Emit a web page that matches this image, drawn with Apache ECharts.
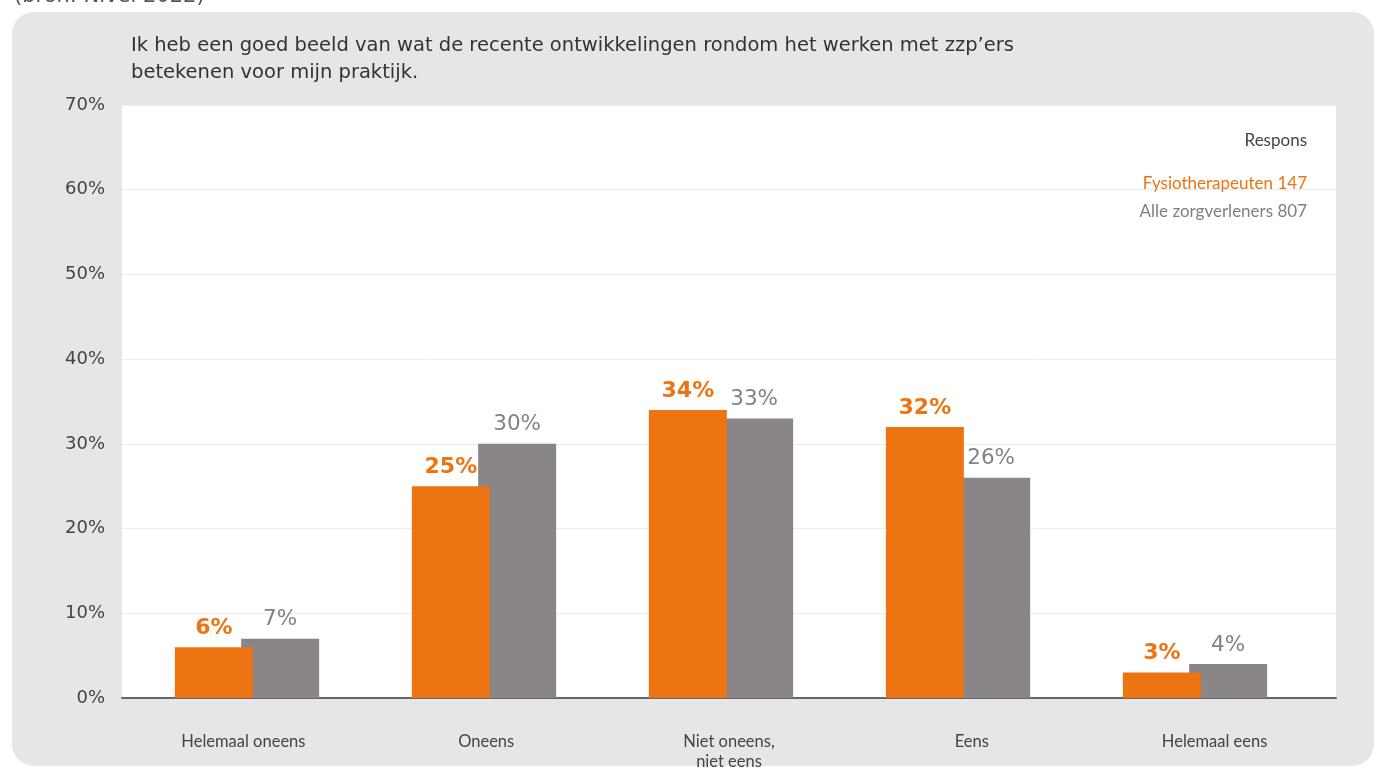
<!DOCTYPE html>
<html>
<head>
<meta charset="utf-8">
<script src="https://cdn.jsdelivr.net/npm/echarts@6/dist/echarts.min.js"></script>
<style>
  html, body { margin: 0; padding: 0; background: #ffffff; }
  #chart { width: 1374px; height: 769px; }
</style>
</head>
<body>
<div id="chart"></div>
<script>
// ---- data ----
const categories = ['Helemaal oneens', 'Oneens', 'Niet oneens,\nniet eens', 'Eens', 'Helemaal eens'];
const fysioValues = [6, 25, 34, 32, 3];
const alleValues = [7, 30, 33, 26, 4];
const seriesNames = ['Fysiotherapeuten', 'Alle zorgverleners'];
const responseCounts = [147, 807];
const legendTitle = 'Respons';
const yTicks = [0, 10, 20, 30, 40, 50, 60, 70];
const titleLines = ['Ik heb een goed beeld van wat de recente ontwikkelingen rondom het werken met zzp\u2019ers', 'betekenen voor mijn praktijk.'];
const sourceText = '(bron: Nivel 2022)';

const ORANGE = '#ec7412';
const GREY = '#8a8587';
const FONT = 'Lato, "Noto Sans", sans-serif';
const WIDE = '"DejaVu Sans", sans-serif';

const yMin = yTicks[0], yMax = yTicks[yTicks.length - 1];

const chart = echarts.init(document.getElementById('chart'));
chart.setOption({
  backgroundColor: '#ffffff',
  animation: false,
  textStyle: { fontFamily: FONT },
  title: {
    text: titleLines.join('\n'),
    left: 126, top: 27,
    textStyle: { fontFamily: WIDE, fontSize: 19.5, fontWeight: 'normal', color: '#333333', lineHeight: 27 }
  },
  grid: [
    { left: 122, right: 38, top: 105, bottom: 71,
      show: true, backgroundColor: '#ffffff', borderWidth: 0,
      containLabel: false, outerBoundsMode: 'none' },
    { left: 128.5, right: 60.5, top: 105, bottom: 71,
      show: false, containLabel: false, outerBoundsMode: 'none' }
  ],
  graphic: [
    { type: 'rect', z: -10, silent: true,
      shape: { x: 12, y: 12, width: 1362, height: 754, r: 22 },
      style: { fill: '#e6e6e6' } },
    { type: 'text', z: 5, silent: true, left: 14, top: -14,
      style: { text: sourceText, font: '21px ' + WIDE, fill: '#555555' } },
    { type: 'text', z: 50, silent: true, right: 67, top: 132,
      style: { text: legendTitle, font: '17px ' + FONT, fill: '#444444', textAlign: 'right' } },
    { type: 'text', z: 50, silent: true, right: 67, top: 175,
      style: { text: seriesNames[0] + ' ' + responseCounts[0], font: '17px ' + FONT, fill: ORANGE, textAlign: 'right' } },
    { type: 'text', z: 50, silent: true, right: 67, top: 203,
      style: { text: seriesNames[1] + ' ' + responseCounts[1], font: '17px ' + FONT, fill: '#7f7f7f', textAlign: 'right' } }
  ],
  xAxis: [
    { type: 'category', gridIndex: 0,
      data: categories,
      axisLine: { lineStyle: { color: '#666666', width: 2 } },
      axisTick: { show: false },
      axisLabel: { color: '#444444', fontSize: 16.5, margin: 34, lineHeight: 20, fontFamily: FONT } },
    { type: 'category', gridIndex: 1,
      data: categories, show: false }
  ],
  yAxis: [
    { type: 'value', gridIndex: 0,
      min: yMin, max: yMax, interval: 10,
      axisLine: { show: false },
      axisTick: { show: false },
      axisLabel: { formatter: '{value}%', color: '#444444', fontSize: 18, margin: 17, fontFamily: WIDE },
      splitLine: { lineStyle: { color: '#ececec', width: 1 } } },
    { type: 'value', gridIndex: 1,
      min: yMin, max: yMax, interval: 10, show: false,
      splitLine: { show: false } }
  ],
  series: [
    {
      name: seriesNames[0], type: 'bar', z: 4,
      xAxisIndex: 1, yAxisIndex: 1,
      data: fysioValues,
      barWidth: 78, barGap: '-15%',
      itemStyle: { color: ORANGE },
      label: { show: true, position: 'top', distance: 8, formatter: '{c}%',
        color: ORANGE, fontSize: 22, fontWeight: 'bold', fontFamily: WIDE }
    },
    {
      name: seriesNames[1], type: 'bar', z: 3,
      xAxisIndex: 1, yAxisIndex: 1,
      data: alleValues,
      barWidth: 78,
      itemStyle: { color: GREY },
      label: { show: true, position: 'top', distance: 8, formatter: '{c}%',
        color: '#838383', fontSize: 21.5, fontFamily: WIDE }
    }
  ]
});
</script>
</body>
</html>
